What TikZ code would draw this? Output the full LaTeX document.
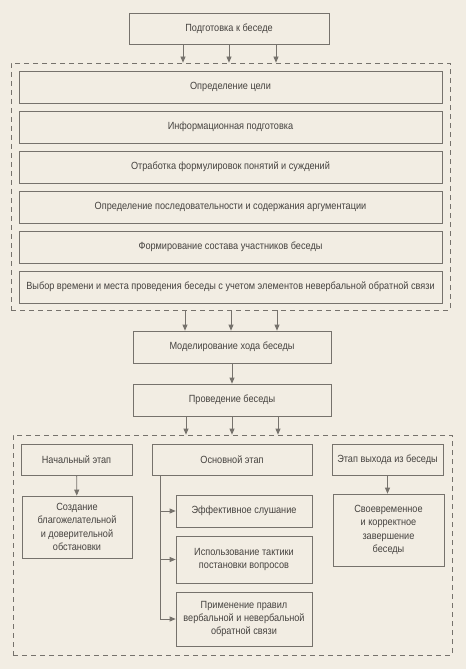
\documentclass[tikz,border=0pt]{standalone}
\usepackage{fontspec}
\setmainfont{Liberation Sans}[FakeStretch=0.88]
\usetikzlibrary{arrows.meta}
\definecolor{paper}{HTML}{F2EDE3}
\definecolor{ln}{HTML}{76726C}
\definecolor{tx}{HTML}{45423F}
\tikzset{
  box/.style={draw=ln, line width=0.75pt, text=tx, align=center, inner sep=1pt, font=\fontsize{10.4}{13.4}\selectfont},
  frame/.style={draw=ln, line width=0.75pt, dashed, dash pattern=on 5pt off 4pt},
  arr/.style={draw=ln, line width=0.75pt, -{Triangle[length=6pt,width=5pt]}},
}
\begin{document}
\begin{tikzpicture}[x=1pt,y=-1pt]
\fill[paper] (0,0) rectangle (466,669);
\useasboundingbox (0,0) rectangle (466,669);
% top
\node[box, minimum width=200pt, minimum height=31pt] (top) at (229,28.5) {Подготовка к беседе};
\node[frame, minimum width=439pt, minimum height=247pt] (f1) at (230.5,186.5) {};
\node[box, minimum width=423pt, minimum height=32pt] (b1) at (230.5,87) {Определение цели};
\node[box, minimum width=423pt, minimum height=32pt] (b2) at (230.5,127) {Информационная подготовка};
\node[box, minimum width=423pt, minimum height=32pt] (b3) at (230.5,167) {Отработка формулировок понятий и суждений};
\node[box, minimum width=423pt, minimum height=32pt] (b4) at (230.5,207) {Определение последовательности и содержания аргументации};
\node[box, minimum width=423pt, minimum height=32pt] (b5) at (230.5,247) {Формирование состава участников беседы};
\node[box, minimum width=423pt, minimum height=32pt] (b6) at (230.5,287) {Выбор времени и места проведения беседы с учетом элементов невербальной обратной связи};
\node[box, minimum width=198pt, minimum height=32pt] (model) at (232,347) {Моделирование хода беседы};
\node[box, minimum width=198pt, minimum height=32pt] (prov) at (232,400) {Проведение беседы};
\node[frame, minimum width=439pt, minimum height=220pt] (f2) at (232.5,545) {};
\node[box, minimum width=111pt, minimum height=31pt] (start) at (76.5,459.5) {Начальный этап};
\node[box, minimum width=160pt, minimum height=31pt] (main) at (232,459.5) {Основной этап};
\node[box, minimum width=111pt, minimum height=31pt] (exit) at (387.5,459.5) {Этап выхода из беседы};
\node[box, minimum width=110pt, minimum height=62pt] (create) at (77,527) {Создание\\благожелательной\\и доверительной\\обстановки};
\node[box, minimum width=111pt, minimum height=72pt] (timely) at (388.5,530) {Своевременное\\и корректное\\завершение\\беседы};
\node[box, minimum width=136pt, minimum height=32pt] (eff) at (244,511) {Эффективное слушание};
\node[box, minimum width=136pt, minimum height=47pt] (use) at (244,559.5) {Использование тактики\\постановки вопросов};
\node[box, minimum width=136pt, minimum height=54pt] (apply) at (244,619) {Применение правил\\вербальной и невербальной\\обратной связи};
% coordinates for arrow columns
\coordinate (c1) at (183,0);
\coordinate (c2) at (229,0);
\coordinate (c3) at (276,0);
\coordinate (d1) at (185,0);
\coordinate (d2) at (231,0);
\coordinate (d3) at (277,0);
\coordinate (e1) at (186,0);
\coordinate (e2) at (232,0);
\coordinate (e3) at (278,0);
\coordinate (trunk) at (160,0);
\foreach \c in {c1,c2,c3} \draw[arr] (top.south -| \c) -- (f1.north -| \c);
\foreach \c in {d1,d2,d3} \draw[arr] (f1.south -| \c) -- (model.north -| \c);
\draw[arr] (model) -- (prov);
\foreach \c in {e1,e2,e3} \draw[arr] (prov.south -| \c) -- (f2.north -| \c);
\draw[arr] (start) -- (create);
\draw[arr] (exit) -- (exit.south |- timely.north);
\draw[arr] (main.south -| trunk) |- (apply.west);
\draw[arr] (eff.west -| trunk) -- (eff.west);
\draw[arr] (use.west -| trunk) -- (use.west);
\end{tikzpicture}
\end{document}
